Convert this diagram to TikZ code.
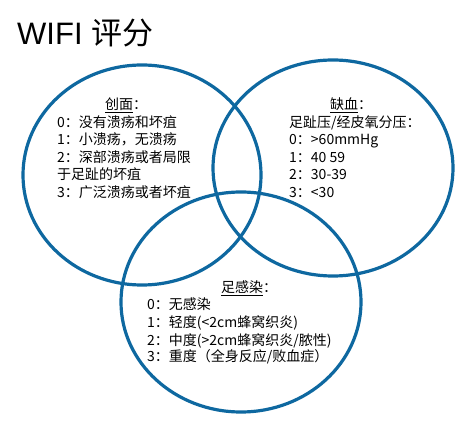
\documentclass[tikz,border=0pt]{standalone}
\usepackage{fontspec}
\setmainfont{Liberation Serif}
\newfontfamily\cjk{Noto Sans CJK SC}
\newfontfamily\titlefont{Liberation Sans}
\usetikzlibrary{positioning}
\definecolor{venn blue}{RGB}{14,104,160}
\tikzstyle{ring} = [draw=venn blue,line width=3.2pt]
\tikzstyle{item} = [anchor=base west,inner sep=0pt,font=\cjk\fontsize{14}{16}\selectfont]
\tikzstyle{head} = [anchor=base,inner sep=0pt,font=\cjk\fontsize{14}{16}\selectfont]

\begin{document}
\begin{tikzpicture}[x=1pt,y=-1pt]
		\useasboundingbox (0,0) rectangle (466,430);
		\node[anchor=base west,inner sep=0pt,font=\fontsize{31}{34}\selectfont] (title) at (17,45) {\titlefont WIFI \cjk 评分};
		
		\draw[ring] (142,175) ellipse (119pt and 110pt);
		\draw[ring] (333,168) ellipse (120pt and 108pt);
		\draw[ring] (241,302) ellipse (120pt and 110pt);
		
		% wound
		\node[head] (w) at (126,110) {\underline{创面}：};
		\node[item] (w0) at (57,128) {0：没有溃疡和坏疽};
		\node[item] (w1) at (57,145) {1：小溃疡，无溃疡};
		\node[item] (w2) at (57,163) {2：深部溃疡或者局限};
		\node[item] (w2b) at (57,180) {于足趾的坏疽};
		\node[item] (w3) at (57,198) {3：广泛溃疡或者坏疽};
		
		% ischemia
		\node[head] (i) at (351,110) {\underline{缺血}：};
		\node[item] (i0) at (289,128) {足趾压/经皮氧分压：};
		\node[item] (i1) at (289,145) {0：\textgreater60mmHg};
		\node[item] (i2) at (289,163) {1：40 59};
		\node[item] (i3) at (289,180) {2：30-39};
		\node[item] (i4) at (289,198) {3：\textless30};
		
		% foot infection
		\node[head] (f) at (249,293) {\underline{足感染}：};
		\node[item] (f0) at (147,310) {0：无感染};
		\node[item] (f1) at (147,328) {1：轻度(\textless2cm蜂窝织炎)};
		\node[item] (f2) at (147,345) {2：中度(\textgreater2cm蜂窝织炎/脓性)};
		\node[item] (f3) at (147,362) {3：重度（全身反应/败血症）};
	\end{tikzpicture}
\end{document}
